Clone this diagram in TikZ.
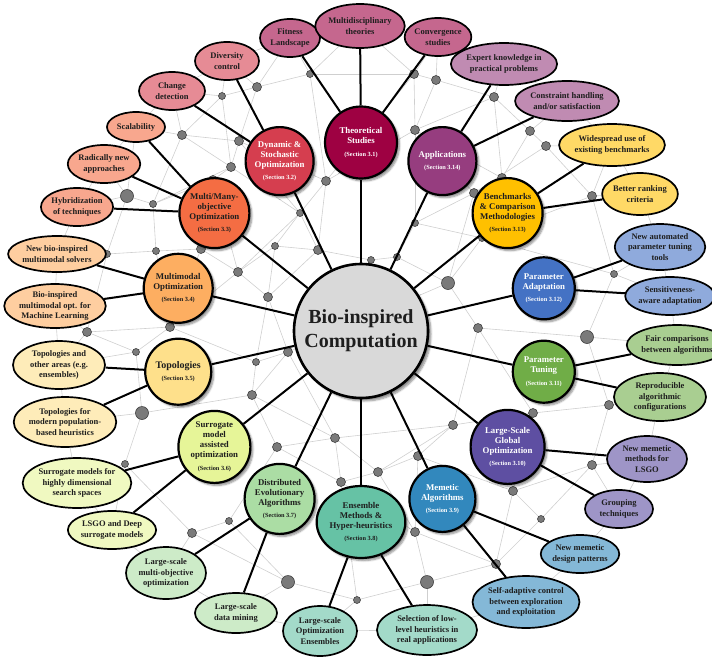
\documentclass[tikz,border=0pt]{standalone}
\usepackage{fontspec}
\setmainfont{Liberation Serif}
\usetikzlibrary{shapes.geometric,shadows.blur,backgrounds}
\definecolor{cT}{HTML}{9E0142}
\definecolor{cD}{HTML}{D53E4F}
\definecolor{cM}{HTML}{F46D43}
\definecolor{cMM}{HTML}{FDAE61}
\definecolor{cTo}{HTML}{FEE08B}
\definecolor{cS}{HTML}{E6F598}
\definecolor{cDi}{HTML}{ABDDA4}
\definecolor{cE}{HTML}{66C2A5}
\definecolor{cMe}{HTML}{3288BD}
\definecolor{cL}{HTML}{5E4FA2}
\definecolor{cPT}{HTML}{70AD47}
\definecolor{cPA}{HTML}{4472C4}
\definecolor{cB}{HTML}{FFC000}
\definecolor{cA}{HTML}{963D7F}
\definecolor{dotgray}{HTML}{7A7A7A}
\definecolor{meshgray}{HTML}{CFCFCF}
\definecolor{centergray}{HTML}{D9D9D9}
\definecolor{txt}{HTML}{1E1E1E}
\tikzset{
  sec/.style 2 args={circle, draw=black, line width=2.2pt, fill=#1, minimum size=#2,
    inner sep=0pt, align=center, text=txt,
    font=\fontsize{8.8}{10}\selectfont\bfseries,
    blur shadow={shadow xshift=2.5pt, shadow yshift=-2.5pt, shadow blur steps=6, shadow opacity=45}},
  wt/.style={text=white},
  child/.style={ellipse, draw=black, line width=1.7pt, fill=#1!60, inner sep=0pt,
    align=center, text=txt, font=\fontsize{8.5}{10.5}\selectfont\bfseries},
  gdot/.style={circle, fill=dotgray, draw=black!75, line width=0.6pt, inner sep=0pt, minimum size=#1},
  mesh/.style={draw=meshgray, line width=0.6pt},
  conn/.style={draw=black, line width=2pt},
}
\newcommand{\secl}[1]{\\[2.5pt]{\fontsize{6.3}{7}\selectfont (Section #1)}}
\begin{document}
\begin{tikzpicture}[x=1pt,y=-1pt]
\useasboundingbox (0,0) rectangle (712,656);
% dots
\foreach \n/\x/\y/\s in {
 d1/310/74/7, d2/257/87/9, d3/222/96/7, d4/182/135/9, d5/239/141/9, d6/231/167/9,
 d7/213/180/9, d8/127/196/13, d9/153/204/7, d10/326/181/9, d11/300/213/7,
 d12/414/74/9, d13/436/80/9, d14/494/97/9, d15/415/130/9, d16/530/131/9, d17/546/146/9,
 d18/502/178/9, d19/474/193/9, d20/592/196/9, d21/275/246/7, d22/318/250/9,
 d23/238/272/9, d24/268/297/9, d25/371/260/7, d26/397/257/7, d27/415/223/7,
 d28/448/283/13, d29/482/238/7, d30/107/254/7, d31/156/251/7, d32/201/249/9,
 d33/87/332/9, d34/170/327/9, d35/136/352/7, d36/288/352/9, d37/256/362/7,
 d38/252/395/9, d39/142/413/13, d40/335/438/9, d41/478/328/9, d42/614/274/7,
 d43/587/337/13, d44/609/405/9, d45/533/413/9, d46/453/425/9, d47/125/464/7,
 d48/277/447/9, d49/341/482/9, d50/229/521/7, d51/192/533/9, d52/288/582/13,
 d53/357/600/7, d54/378/472/9, d55/418/456/9, d56/513/491/9, d57/592/465/9,
 d58/541/519/7, d59/415/532/9, d60/496/564/9, d61/427/582/13}
  \node[gdot=\s] (\n) at (\x,\y) {};
% center
\node[circle, draw=black, line width=2.6pt, fill=centergray, minimum size=134pt, inner sep=0pt,
  align=center, text=txt, font=\fontsize{20}{24}\selectfont\bfseries,
  blur shadow={shadow xshift=3pt, shadow yshift=-3pt, shadow blur steps=6, shadow opacity=45}]
  (bio) at (361,331) {Bio-inspired\\Computation};
% sections
\node[sec={cT}{72pt}, wt] (sT) at (361,142.5) {Theoretical\\Studies\secl{3.1}};
\node[sec={cD}{68pt}, wt] (sD) at (279.6,161.1) {Dynamic \&\\Stochastic\\Optimization\secl{3.2}};
\node[sec={cM}{70pt}] (sM) at (214.4,213.1) {Multi/Many-\\objective\\Optimization\secl{3.3}};
\node[sec={cMM}{69pt}] (sMM) at (178.2,288.3) {Multimodal\\Optimization\secl{3.4}};
\node[sec={cTo}{66pt}] (sTo) at (178.2,371.7) {{\fontsize{10}{11}\selectfont Topologies}\secl{3.5}};
\node[sec={cS}{72pt}] (sS) at (214.4,446.9) {Surrogate\\model\\assisted\\optimization\secl{3.6}};
\node[sec={cDi}{70pt}] (sDi) at (279.6,498.9) {Distributed\\Evolutionary\\Algorithms\secl{3.7}};
\node[sec={cE}{72pt}, ellipse, minimum width=83pt, minimum height=72pt] (sE) at (361,522) {Ensemble\\Methods \&\\Hyper-heuristics\secl{3.8}};
\node[sec={cMe}{66pt}, wt] (sMe) at (442.4,498.9) {Memetic\\Algorithms\secl{3.9}};
\node[sec={cL}{74pt}, wt] (sL) at (507.6,446.9) {Large-Scale\\Global\\Optimization\secl{3.10}};
\node[sec={cPT}{62pt}, wt] (sPT) at (543.8,371.7) {Parameter\\Tuning\secl{3.11}};
\node[sec={cPA}{62pt}, wt] (sPA) at (543.8,288.3) {Parameter\\Adaptation\secl{3.12}};
\node[sec={cB}{70pt}] (sB) at (507.6,213.1) {Benchmarks\\\& Comparison\\Methodologies\secl{3.13}};
\node[sec={cA}{68pt}, wt] (sA) at (442.4,161.1) {Applications\secl{3.14}};
% children
\foreach \n/\x/\y/\w/\h/\c/\t in {
 fit/290/38/60/38/cT/{Fitness\\Landscape},
 mul/360/26/72/44/cT/{Multidisciplinary\\theories},
 conv/438/37/66/38/cT/{Convergence\\studies},
 div/227/61/64/38/cD/{Diversity\\control},
 chg/172/91/66/38/cD/{Change\\detection},
 scal/136/127/58/30/cM/{Scalability},
 rad/104/164/66/38/cM/{Radically new\\approaches},
 hyb/77/207/72/38/cM/{Hybridization\\of techniques},
 nbio/57/254/86/36/cMM/{New bio-inspired\\multimodal solvers},
 bml/55/306/92/44/cMM/{Bio-inspired\\multimodal opt. for\\Machine Learning},
 toa/59/365/92/48/cTo/{Topologies and\\other areas (e.g.\\ensembles)},
 tmod/65/422/94/50/cTo/{Topologies for\\modern population-\\based heuristics},
 shd/77/483/102/50/cS/{Surrogate models for\\highly dimensional\\search spaces},
 lsd/112/530/82/38/cS/{LSGO and Deep\\surrogate models},
 lsmo/166/573/80/52/cDi/{Large-scale\\multi-objective\\optimization},
 ldm/236/613/82/40/cDi/{Large-scale\\data mining},
 loe/320/631/74/50/cE/{Large-scale\\Optimization\\Ensembles},
 sel/427/630/100/50/cE/{Selection of low-\\level heuristics in\\real applications},
 sac/526/602/100/52/cMe/{Self-adaptive control\\between exploration\\and exploitation},
 nmd/580/554/76/38/cMe/{New memetic\\design patterns},
 grp/619/509/68/38/cL/{Grouping\\techniques},
 nml/647/459/80/46/cL/{New memetic\\methods for\\LSGO},
 rep/660/397/92/48/cPT/{Reproducible\\algorithmic\\configurations},
 fair/677/345/90/40/cPT/{Fair comparisons\\between algorithms},
 sens/670/296/84/38/cPA/{Sensitiveness-\\aware adaptation},
 nat/660/247/82/46/cPA/{New automated\\parameter tuning\\tools},
 brc/640/194/74/42/cB/{Better ranking\\criteria},
 wus/612/145/94/42/cB/{Widespread use of\\existing benchmarks},
 con/567/101/88/40/cA/{Constraint handling\\and/or satisfaction},
 exp/504/64/90/42/cA/{Expert knowledge in\\practical problems}}
  \node[child=\c, minimum width=\w pt, minimum height=\h pt] (\n) at (\x,\y) {\t};
% background mesh
\begin{scope}[on background layer]
\foreach \a/\b in {
 d1/d2, d1/d10, d1/fit, d1/mul, d1/d12, d2/d3, d2/d5, d2/fit, d2/div,
 d3/d4, d3/chg, d3/d6, d3/div, d4/scal, d4/d5, d4/d6, d4/d9, d4/chg,
 d5/d6, d5/d10, d5/d11, d6/d7, d6/d9, d6/d11, d7/d9, d7/d32, d7/d23,
 d8/d9, d8/hyb, d8/rad, d8/d30, d8/scal, d9/d31,
 d10/d11, d10/d15, d10/d22, d10/d12, d11/d21, d11/d22, d11/d23,
 d12/d13, d12/mul, d12/conv, d12/d15, d13/d14, d13/conv, d13/d15,
 d14/d16, d14/exp, d14/d18, d14/d15, d15/d19, d15/d27, d15/d18,
 d16/d17, d16/con, d16/d18, d17/d20, d17/wus, d17/d19, d18/d19, d18/d29,
 d19/d27, d19/d28, d20/brc, d20/d29, d20/wus, d20/d42,
 d21/d22, d21/d23, d21/d24, d22/d25, d22/d24, d23/d24, d23/d32, d23/d34,
 d24/d36, d24/d37, d25/d26, d25/d36, d26/d27, d26/d28, d27/d29,
 d28/d29, d28/d41, d28/d36, d29/d42, d30/d31, d30/nbio, d30/d33,
 d31/d32, d31/d34, d32/d34, d33/d34, d33/d35, d33/bml, d33/toa,
 d34/d35, d34/d37, d35/d39, d35/toa, d36/d37, d36/d40, d36/d38, d37/d38,
 d38/d39, d38/d40, d38/d48, d39/d47, d39/tmod,
 d40/d48, d40/d49, d40/d46, d40/d54, d41/d43, d41/d45, d41/d46,
 d42/d43, d42/nat, d42/sens, d43/d44, d43/fair, d44/d45, d44/rep, d44/d57,
 d45/d46, d45/d56, d46/d54, d46/d55, d47/shd, d47/d51, d47/lsd,
 d48/d50, d48/d49, d49/d53, d49/d54, d49/d59, d50/d51, d50/d52,
 d51/d52, d51/lsmo, d52/d53, d52/ldm, d53/d61, d53/loe,
 d54/d55, d54/d59, d55/d56, d55/d59, d56/d57, d56/d58, d56/d60,
 d57/d58, d57/nml, d57/grp, d58/d60, d59/d60, d59/d61, d60/d61, d60/sac, d61/sel,
 fit/div, mul/conv, conv/exp, exp/con, con/wus, wus/brc, brc/nat, nat/sens,
 sens/fair, fair/rep, rep/nml, nml/grp, grp/nmd, nmd/sac, sac/sel, sel/loe,
 loe/ldm, ldm/lsmo, lsmo/lsd, lsd/shd, shd/tmod, tmod/toa, toa/bml, bml/nbio,
 nbio/hyb, hyb/rad, rad/scal, scal/chg, chg/div}
  \draw[mesh] (\a.center) -- (\b.center);
\end{scope}
% connectors center -> sections
\foreach \s in {sT,sD,sM,sMM,sTo,sS,sDi,sE,sMe,sL,sPT,sPA,sB,sA}
  \draw[conn] (bio) -- (\s);
% connectors sections -> children
\foreach \s/\c in {sT/fit, sT/mul, sT/conv, sD/div, sD/chg, sM/scal, sM/rad, sM/hyb,
 sMM/nbio, sMM/bml, sTo/toa, sTo/tmod, sS/shd, sS/lsd, sDi/lsmo, sDi/ldm,
 sE/loe, sE/sel, sMe/sac, sMe/nmd, sL/grp, sL/nml, sPT/rep, sPT/fair,
 sPA/sens, sPA/nat, sB/brc, sB/wus, sA/con, sA/exp}
  \draw[conn] (\s) -- (\c);
\end{tikzpicture}
\end{document}
